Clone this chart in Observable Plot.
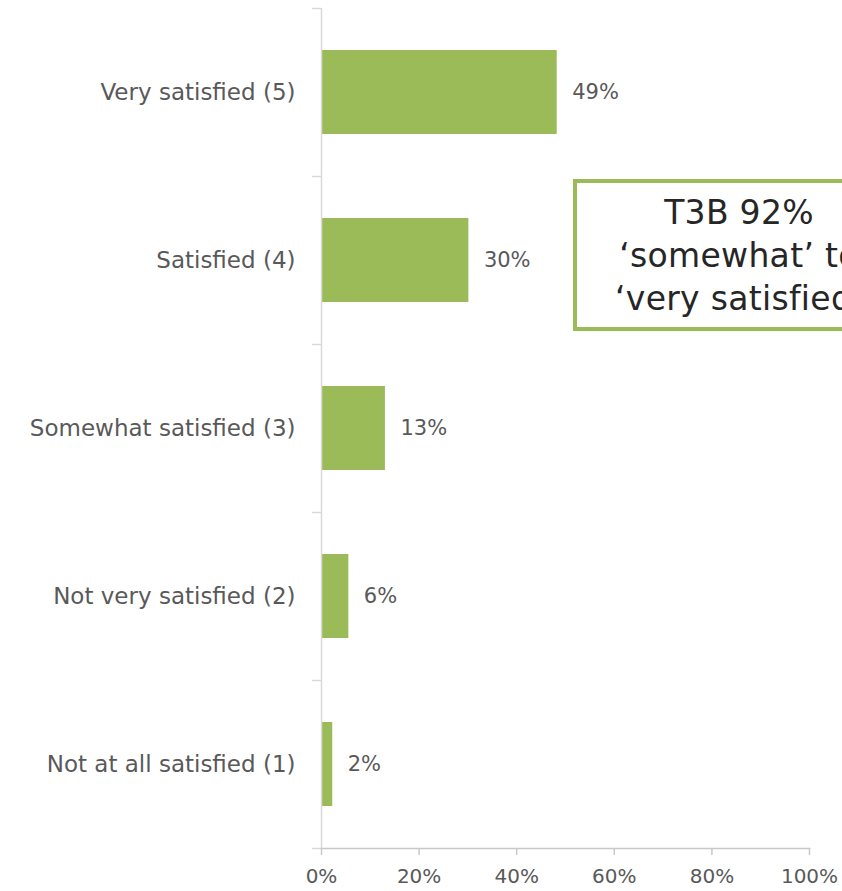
<!DOCTYPE html>
<html><head><meta charset="utf-8">
<script src="https://cdn.jsdelivr.net/npm/d3@7"></script>
<script src="https://cdn.jsdelivr.net/npm/@observablehq/plot@0.6"></script>
<style>
html,body{margin:0;padding:0;background:#fff;overflow:hidden}
#wrap{position:relative;width:842px;height:891px;overflow:hidden}
#note{position:absolute;left:573px;top:179px;width:332px;height:152px;box-sizing:border-box;border:4px solid #9bbb59;background:#fff;
  font-family:"DejaVu Sans",sans-serif;font-size:33px;letter-spacing:0.3px;color:#262626;text-align:center;line-height:43px;padding-top:8px;white-space:nowrap}
</style>
</head><body>
<div id="wrap"></div>
<script>
const categories = ["Very satisfied (5)", "Satisfied (4)", "Somewhat satisfied (3)", "Not very satisfied (2)", "Not at all satisfied (1)"];
const values = [48.3, 30.2, 13.1, 5.6, 2.3];
const valueLabels = ["49%", "30%", "13%", "6%", "2%"];
const xTicks = [0, 20, 40, 60, 80, 100];
const noteLines = ["T3B 92%", "\u2018somewhat\u2019 to", "\u2018very satisfied\u2019"];

const W = 842, H = 891, mt = 8, mb = 43, ml = 321, mr = 33;
const step = (H - mt - mb) / categories.length;
const data = categories.map((c, i) => ({category: c, value: values[i], label: valueLabels[i]}));
const green = "#9bbb59", grey = "#595959", axisGrey = "#d9d9d9";

const chart = Plot.plot({
  width: W, height: H,
  marginTop: mt, marginBottom: mb, marginLeft: ml, marginRight: mr,
  style: {fontFamily: "DejaVu Sans, sans-serif", color: grey, background: "#fff", overflow: "visible"},
  x: {domain: [0, 100]},
  y: {domain: categories, paddingInner: 0.5, paddingOuter: 0.25},
  marks: [
    Plot.barX(data, {x: "value", y: "category", fill: green}),
    Plot.text(data, {x: "value", y: "category", text: "label", textAnchor: "start", dx: 15, fontSize: 21, fill: grey}),
    Plot.axisY({tickSize: 0, tickPadding: 26, fontSize: 23, fill: grey, label: null}),
    Plot.axisY(categories, {tickSize: 9, tickFormat: () => "", dy: -step / 2, stroke: axisGrey, strokeWidth: 1.5, label: null}),
    Plot.axisY([categories[categories.length - 1]], {tickSize: 9, tickFormat: () => "", dy: step / 2, stroke: axisGrey, strokeWidth: 1.5, label: null}),
    Plot.ruleX([0], {stroke: axisGrey, strokeWidth: 1.5}),
    Plot.axisX({ticks: xTicks, tickFormat: d => d + "%", tickSize: 7, tickPadding: 13, fontSize: 20, fill: grey, stroke: "#c8c8c8", strokeWidth: 1.5, label: null}),
    Plot.frame({anchor: "bottom", stroke: "#c8c8c8", strokeWidth: 1.5})
  ]
});
const wrap = document.getElementById("wrap");
wrap.appendChild(chart);
const note = document.createElement("div");
note.id = "note";
note.innerHTML = noteLines.map(t => `<div>${t}</div>`).join("");
wrap.appendChild(note);
</script>
</body></html>
